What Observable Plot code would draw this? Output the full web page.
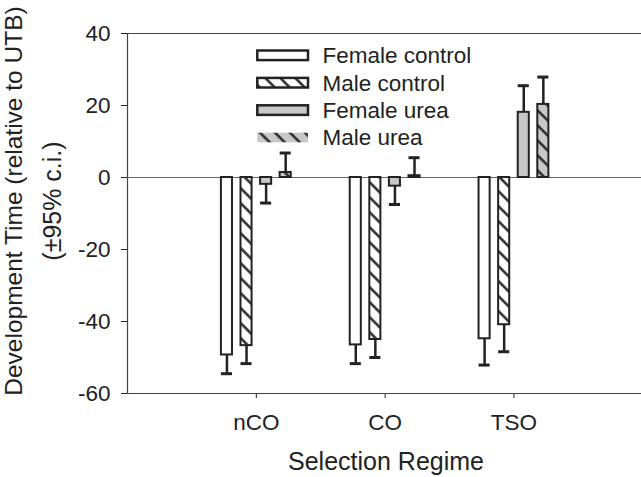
<!DOCTYPE html>
<html>
<head>
<meta charset="utf-8">
<script src="https://cdn.jsdelivr.net/npm/d3@7"></script>
<script src="https://cdn.jsdelivr.net/npm/@observablehq/plot@0.6"></script>
<style>
  html, body { margin: 0; padding: 0; background: #fff; }
  #chart { width: 641px; height: 477px; }
</style>
</head>
<body>
<div id="chart"></div>
<script>
// Selection regimes (x categories) and the four treatment series
const regimes = ["nCO", "CO", "TSO"];
const seriesNames = ["Female control", "Male control", "Female urea", "Male urea"];

// Development time relative to UTB, one value per regime, with 95% c.i. half-widths
const femaleControl   = [-49.3, -46.5, -44.8];
const femaleControlCI = [5.2, 5.2, 7.3];
const maleControl     = [-46.7, -45.0, -40.9];
const maleControlCI   = [5.0, 5.0, 7.5];
const femaleUrea      = [-1.9, -2.4, 18.1];
const femaleUreaCI    = [5.2, 5.1, 7.4];
const maleUrea        = [1.4, 0.5, 20.3];
const maleUreaCI      = [5.4, 5.0, 7.6];

const yTicks = [-60, -40, -20, 0, 20, 40];

const seriesValues = [femaleControl, maleControl, femaleUrea, maleUrea];
const seriesCI = [femaleControlCI, maleControlCI, femaleUreaCI, maleUreaCI];

// Bar appearance per series
const seriesFill = ["white", "url(#hatch-white)", "#c8c8c8", "url(#hatch-gray)"];

// Layout of bars within a regime group (in x-scale units, one unit per regime)
const slot = 0.152;
const barHalf = 0.043;
const capHalf = 0.043;

const rows = [];
seriesNames.forEach((name, k) => {
  regimes.forEach((regime, i) => {
    const value = seriesValues[k][i];
    const ci = seriesCI[k][i];
    const cx = i + 1 + (k - 1.5) * slot;
    rows.push({
      regime, series: name, k, value, ci, cx,
      end: value < 0 ? value - ci : value + ci
    });
  });
});

const ink = "#222";

const barMarks = seriesNames.map((name, k) =>
  Plot.rect(rows.filter(d => d.k === k), {
    x1: d => d.cx - barHalf,
    x2: d => d.cx + barHalf,
    y1: 0,
    y2: "value",
    fill: seriesFill[k],
    stroke: ink,
    strokeWidth: 2
  })
);

const svg = Plot.plot({
  width: 641,
  height: 477,
  marginLeft: 127,
  marginRight: 0,
  marginTop: 33,
  marginBottom: 84,
  style: {
    fontFamily: "'Liberation Sans', Arial, Helvetica, sans-serif",
    fontSize: "22.5px",
    color: ink,
    background: "white",
    overflow: "visible"
  },
  x: {
    domain: [0, 3.99],
    ticks: [1, 2, 3],
    tickFormat: d => regimes[d - 1],
    tickSize: 5,
    tickPadding: 16,
    label: null
  },
  y: {
    domain: d3.extent(yTicks),
    ticks: yTicks,
    tickFormat: d => String(d),
    tickSize: 6,
    tickPadding: 11,
    label: null
  },
  marks: [
    // frame: top, bottom and left lines
    Plot.ruleY(d3.extent(yTicks), {stroke: "#444", strokeWidth: 1.2}),
    Plot.ruleX([0], {stroke: "#444", strokeWidth: 1.2}),
    // zero reference line
    Plot.ruleY([0], {stroke: "#666", strokeWidth: 1}),
    ...barMarks,
    // one-sided 95% c.i. whiskers
    Plot.ruleX(rows, {x: "cx", y1: "value", y2: "end", stroke: ink, strokeWidth: 2.5}),
    Plot.ruleY(rows, {y: "end", x1: d => d.cx - capHalf, x2: d => d.cx + capHalf, stroke: ink, strokeWidth: 3})
  ]
});

const root = d3.select(svg);

// Hatch patterns for the male series
const defs = root.insert("defs", ":first-child");
[["hatch-white", "white"], ["hatch-gray", "#c8c8c8"]].forEach(([id, bg]) => {
  const p = defs.append("pattern")
    .attr("id", id)
    .attr("patternUnits", "userSpaceOnUse")
    .attr("width", 10.6)
    .attr("height", 10.6)
    .attr("patternTransform", "rotate(45)");
  p.append("rect").attr("width", 10.6).attr("height", 10.6).attr("fill", bg);
  p.append("line")
    .attr("x1", 0).attr("y1", 5.3).attr("x2", 10.6).attr("y2", 5.3)
    .attr("stroke", ink).attr("stroke-width", 2.4);
});

// Axis titles
root.append("text")
  .attr("x", 386).attr("y", 470)
  .attr("text-anchor", "middle")
  .attr("font-size", 25)
  .attr("fill", ink)
  .text("Selection Regime");

const yTitle = ["Development Time (relative to UTB)", "(±95% c.i.)"];
const yTitleX = [22, 61];
const yTitleSize = [24.5, 25];
yTitle.forEach((t, i) => {
  root.append("text")
    .attr("transform", `translate(${yTitleX[i]},201) rotate(-90)`)
    .attr("text-anchor", "middle")
    .attr("font-size", yTitleSize[i])
    .attr("fill", ink)
    .text(t);
});

// Legend
const legend = root.append("g").attr("text-anchor", "start");
seriesNames.forEach((name, k) => {
  const cy = 55.3 + k * 27.4;
  const g = legend.append("g");
  g.append("rect")
    .attr("x", 257.3).attr("y", cy - 4.8)
    .attr("width", 50.7).attr("height", 9.6)
    .attr("fill", seriesFill[k])
    .attr("stroke", k === 3 ? "none" : ink)
    .attr("stroke-width", 2.5);
  g.append("text")
    .attr("x", 322.5).attr("y", cy)
    .attr("dy", "0.35em")
    .attr("text-anchor", "start")
    .attr("font-size", 22.5)
    .attr("fill", ink)
    .text(name);
});

document.getElementById("chart").appendChild(svg);
</script>
</body>
</html>
